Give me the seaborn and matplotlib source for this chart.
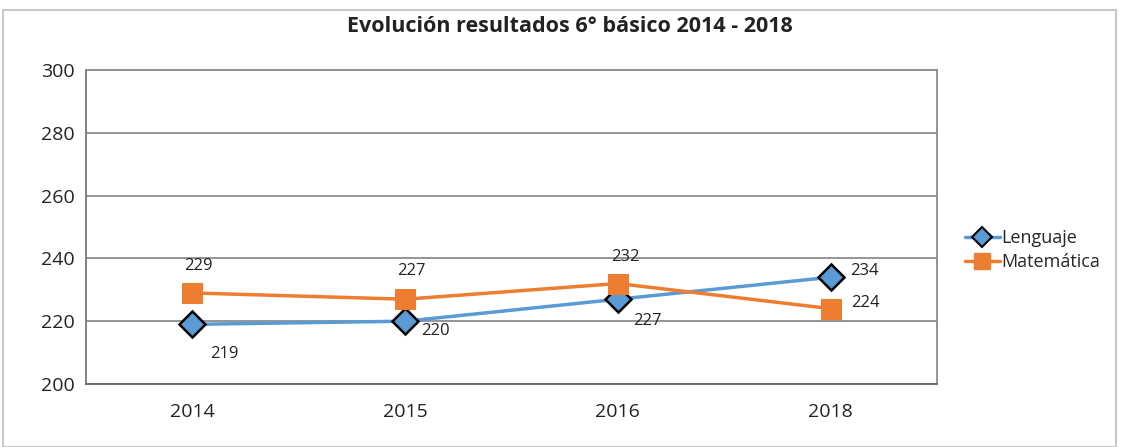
import matplotlib
matplotlib.use("Agg")
import matplotlib.pyplot as plt
import seaborn as sns
import pandas as pd
from matplotlib.patches import Rectangle
from matplotlib.lines import Line2D

years = ["2014", "2015", "2016", "2018"]
lenguaje = [219, 220, 227, 234]
matematica = [229, 227, 232, 224]
series_names = ["Lenguaje", "Matemática"]
title = "Evolución resultados 6° básico 2014 - 2018"

df = pd.DataFrame({
    "year": years * 2,
    "value": lenguaje + matematica,
    "serie": [series_names[0]] * 4 + [series_names[1]] * 4,
})

sns.set_style("white")
plt.rcParams["font.family"] = ["Open Sans", "DejaVu Sans"]

fig = plt.figure(figsize=(11.22, 4.47), dpi=100)
ax = fig.add_axes([86/1122, 1-384/447, (937-86)/1122, (384-70)/447])

palette = {"Lenguaje": "#5B9BD5", "Matemática": "#ED7D31"}
markers = {"Lenguaje": "D", "Matemática": "s"}

sns.lineplot(data=df, x="year", y="value", hue="serie", style="serie",
             palette=palette, markers=markers, dashes=False, ax=ax,
             linewidth=2.5, markersize=15, sort=False, legend=False)
for line, name in zip(ax.lines, series_names):
    if name == "Lenguaje":
        line.set_markeredgecolor("black")
        line.set_markeredgewidth(1.8)
        line.set_markersize(13)
    else:
        line.set_markeredgecolor(palette[name])
        line.set_markersize(15)

off_l = [(32, -30), (30, -10), (30, -22), (34, 6)]
off_m = [(6, 27), (6, 28), (7, 27), (35, 6)]
for i in range(4):
    ax.annotate(str(lenguaje[i]), (i, lenguaje[i]), xytext=off_l[i],
                textcoords="offset pixels", ha="center", va="center", fontsize=12, color="#222222")
    ax.annotate(str(matematica[i]), (i, matematica[i]), xytext=off_m[i],
                textcoords="offset pixels", ha="center", va="center", fontsize=12, color="#222222")

ax.set_xlim(-0.5, 3.5)
ax.set_ylim(200, 300)
ax.set_yticks(range(200, 301, 20))
ax.set_xticks(range(4))
ax.set_xticklabels(years)
ax.set_xticks([-0.5, 0.5, 1.5, 2.5, 3.5], minor=True)
ax.tick_params(axis="x", which="major", length=0, pad=14, labelsize=14, colors="#222222")
ax.tick_params(axis="x", which="minor", length=6, width=1, color="#777777", direction="out")
ax.tick_params(axis="y", which="major", length=6, width=1, color="#777777", direction="out",
               labelsize=14, labelcolor="#222222", pad=2)
ax.grid(axis="y", color="#8c8c8c", linewidth=1.3)
ax.set_axisbelow(True)
for s in ax.spines.values():
    s.set_visible(True)
    s.set_color("#8c8c8c")
    s.set_linewidth(1.3)
ax.spines["left"].set_color("#777777")
ax.spines["bottom"].set_color("#666666")
ax.set_xlabel("")
ax.set_ylabel("")

fig.text(570/1122, 1-27/447, title, ha="center", va="center", fontsize=15.5,
         fontweight="bold", color="#222222")

handles = [
    Line2D([], [], color=palette["Lenguaje"], marker="D", markersize=10,
           markeredgecolor="black", markeredgewidth=1.5, linewidth=2.5),
    Line2D([], [], color=palette["Matemática"], marker="s", markersize=11,
           markeredgecolor=palette["Matemática"], linewidth=2.5),
]
fig.legend(handles, series_names, loc="center left", bbox_to_anchor=(958/1122, 1-250/447),
           frameon=False, fontsize=13, handlelength=1.9, handletextpad=0.1,
           labelspacing=0.35, borderaxespad=0)

fig.patches.append(Rectangle((3/1122, 0), (1116-3)/1122, 1-10/447, transform=fig.transFigure,
                             fill=False, edgecolor="#c8c8c8", linewidth=1.5))

fig.savefig("out.png", dpi=100)
